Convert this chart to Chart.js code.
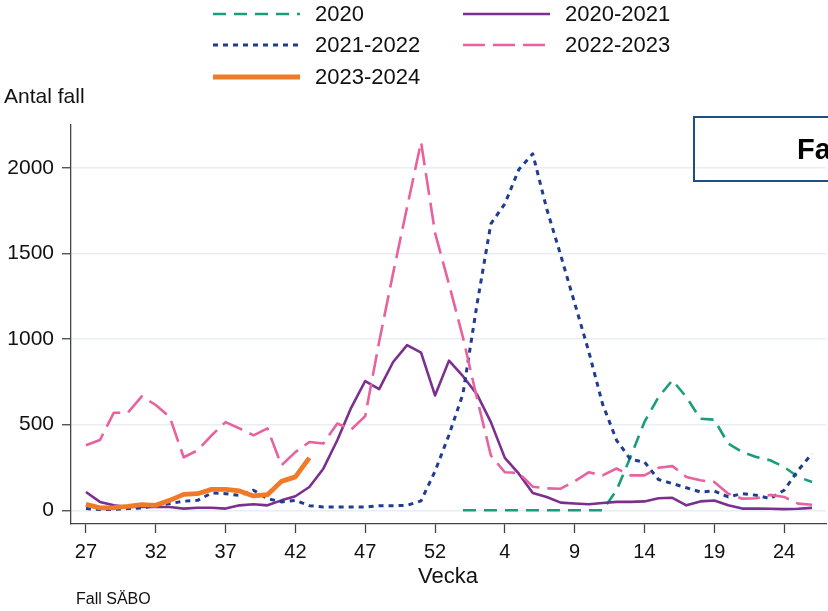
<!DOCTYPE html>
<html>
<head>
<meta charset="utf-8">
<script src="https://cdn.jsdelivr.net/npm/chart.js@4.4.1/dist/chart.umd.min.js"></script>
<style>
html,body{margin:0;padding:0;background:#fff}
canvas{display:block}
</style>
</head>
<body>
<canvas id="chart" width="828" height="611"></canvas>
<script>
// =========================================
// Data
// =========================================

const weeks=[27,28,29,30,31,32,33,34,35,36,37,38,39,40,41,42,43,44,45,46,47,48,49,50,51,52,53,
1,2,3,4,5,6,7,8,9,10,11,12,13,14,15,16,17,18,19,20,21,22,23,24,25,26];

const tickWeeks=[27,32,37,42,47,52,4,9,14,19,24];
const yTicks=[0,500,1000,1500,2000];

const s2020=[null,null,null,null,null,null,null,null,null,null,null,null,null,null,null,null,null,null,null,null,null,null,null,null,null,null,null,
0,0,0,0,0,0,0,0,0,0,0,117,311,516,661,759,661,535,529,389,340,311,292,253,195,165];

const s2020_2021=[107,49,29,19,19,19,19,10,15,15,10,29,35,29,58,82,136,243,409,600,755,708,866,965,921,671,874,
783,678,515,306,214,101,78,45,40,35,43,49,49,52,70,73,29,52,57,29,10,10,9,7,9,14];

const s2021_2022=[10,5,5,10,14,27,39,53,58,101,97,87,117,68,49,58,27,19,19,19,19,27,27,29,55,228,440,
680,1200,1673,1790,1990,2082,1760,1490,1210,930,620,409,297,282,180,156,132,107,113,78,97,88,68,117,233,331];

const s2022_2023=[380,410,570,570,665,615,545,310,350,438,515,478,438,478,263,340,399,390,507,472,550,985,1385,1770,2150,1620,1320,
1010,656,320,222,218,138,128,126,170,222,204,244,204,204,248,258,195,175,165,97,68,70,90,78,39,32];

const s2023_2024=[35,14,15,23,33,29,58,93,97,122,122,113,84,91,169,195,306];

// =========================================

function points(values){
    return weeks.map((w,i)=>({x:i,y:values[i]===undefined?null:values[i]}));
}

const series=[
    {label:"2020",data:s2020,color:"#189e7c",width:2.6,dash:[13,8],order:4},
    {label:"2020-2021",data:s2020_2021,color:"#7b2f8f",width:2.6,dash:[],order:3},
    {label:"2021-2022",data:s2021_2022,color:"#1f3c91",width:3,dash:[5,5],order:2},
    {label:"2022-2023",data:s2022_2023,color:"#e8629e",width:2.6,dash:[22,8],order:1},
    {label:"2023-2024",data:s2023_2024,color:"#f07a27",width:4.8,dash:[],order:0}
];

const FONT="'Liberation Sans', Arial, sans-serif";

// =========================================
// Legend, titles, box
// =========================================

const extras={
    id:"extras",
    afterDraw(chart){
        const ctx=chart.ctx;
        ctx.save();

        const cols=[213,463];
        const rows=[14,45,77];
        series.forEach((s,i)=>{
            const x=cols[i%2];
            const y=rows[Math.floor(i/2)];
            ctx.beginPath();
            ctx.setLineDash(s.dash);
            ctx.strokeStyle=s.color;
            ctx.lineWidth=s.width;
            ctx.moveTo(x,y);
            ctx.lineTo(x+87,y);
            ctx.stroke();
            ctx.setLineDash([]);
            ctx.fillStyle="#111";
            ctx.font="22px "+FONT;
            ctx.textBaseline="middle";
            ctx.textAlign="left";
            ctx.fillText(s.label,x+102,y+1);
        });

        ctx.fillStyle="#111";
        ctx.font="21px "+FONT;
        ctx.textBaseline="middle";
        ctx.textAlign="left";
        ctx.fillText("Antal fall",4,97);

        ctx.textAlign="center";
        ctx.font="22px "+FONT;
        ctx.fillText("Vecka",448,577);

        ctx.textAlign="left";
        ctx.font="16px "+FONT;
        ctx.fillText("Fall SÄBO",76,600);

        ctx.strokeStyle="#1e4f84";
        ctx.lineWidth=2;
        ctx.strokeRect(694,117,200,64);
        ctx.fillStyle="#000";
        ctx.font="bold 29px "+FONT;
        ctx.fillText("Fall SÄBO",797,151);

        ctx.restore();
    }
};

// =========================================
// Chart
// =========================================

new Chart(document.getElementById("chart"),{

type:"line",

data:{
    datasets:series.map(s=>({
        label:s.label,
        data:points(s.data),
        borderColor:s.color,
        borderWidth:s.width,
        borderDash:s.dash,
        order:s.order,
        pointRadius:0,
        tension:0,
        fill:false,
        spanGaps:false,
        borderJoinStyle:"round"
    }))
},

options:{
    responsive:false,
    animation:false,
    devicePixelRatio:1,
    layout:{padding:{top:125,right:2,left:0,bottom:0}},
    plugins:{
        legend:{display:false},
        tooltip:{enabled:false}
    },
    scales:{
        x:{
            type:"linear",
            min:-1.07,
            max:53,
            afterBuildTicks:scale=>{
                scale.ticks=tickWeeks.map(w=>({value:weeks.indexOf(w)}));
            },
            afterFit:scale=>{scale.height=87;},
            grid:{drawOnChartArea:false,drawTicks:true,tickLength:9,tickColor:"#444",tickWidth:1.3},
            border:{color:"#444",width:1.3},
            ticks:{
                autoSkip:false,
                maxRotation:0,
                padding:7,
                color:"#111",
                font:{family:FONT,size:20},
                callback:v=>weeks[v]
            }
        },
        y:{
            min:-80,
            max:2250,
            afterBuildTicks:scale=>{
                scale.ticks=yTicks.map(v=>({value:v}));
            },
            afterFit:scale=>{scale.width=71;},
            grid:{color:"#e8eef4",lineWidth:1.5,tickLength:9,tickColor:"#444",tickWidth:1.3},
            border:{color:"#444",width:1.3},
            ticks:{
                padding:8,
                color:"#111",
                font:{family:FONT,size:21},
                callback:v=>String(v)
            }
        }
    }
},

plugins:[extras]

});
</script>
</body>
</html>
